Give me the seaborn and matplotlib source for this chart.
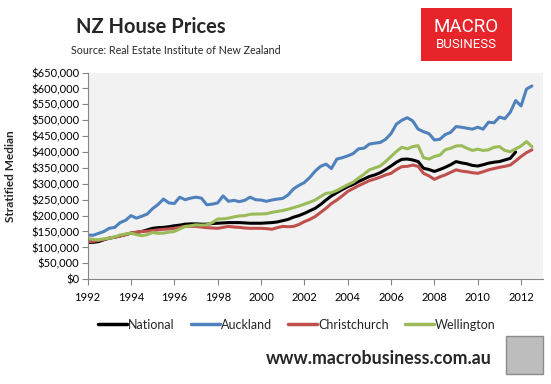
import numpy as np
import pandas as pd
import matplotlib
matplotlib.use("Agg")
import matplotlib.pyplot as plt
import matplotlib.ticker as mticker
from matplotlib.patches import Rectangle
import seaborn as sns

# ── Data (quarterly readings, $ thousands) ───────────────────────
start_year = 1992.0
auckland = [
    139, 138, 144, 150, 160, 163, 178, 185, 200, 192, 198, 205,
    222, 235, 252, 240, 238, 258, 250, 255, 258, 255, 234, 236,
    240, 262, 245, 248, 244, 248, 258, 250, 249, 245, 249, 252,
    254, 265, 284, 295, 304, 320, 340, 355, 362, 348, 378, 382,
    388, 395, 410, 412, 425, 428, 430, 440, 458, 488, 500, 508,
    498, 472, 464, 458, 438, 440, 455, 462, 480, 478, 475, 472,
    478, 472, 494, 492, 510, 505, 525, 562, 545, 598, 608,
]
wellington = [
    128, 125, 124, 127, 129, 133, 139, 142, 145, 140, 137, 140,
    147, 144, 145, 148, 150, 158, 166, 168, 171, 170, 171, 178,
    189, 190, 192, 196, 199, 200, 204, 205, 205, 206, 210, 213,
    216, 220, 225, 230, 236, 242, 249, 260, 270, 272, 279, 288,
    297, 305, 318, 330, 344, 350, 356, 370, 386, 402, 415, 410,
    417, 420, 382, 378, 386, 390, 407, 412, 419, 420, 412, 405,
    409, 405, 407, 415, 417, 405, 401, 410, 419, 433, 417,
]
national = [
    115, 116, 118, 124, 129, 132, 136, 140, 145, 147, 150, 155,
    160, 162, 163, 165, 168, 170, 173, 174, 174, 173, 173, 175,
    176, 177, 178, 178, 178, 177, 176, 176, 176, 177, 178, 180,
    184, 188, 195, 200, 207, 215, 223, 235, 249, 262, 272, 282,
    291, 298, 307, 315, 323, 328, 335, 345, 356, 368, 377, 378,
    375, 370, 349, 345, 339, 345, 352, 360, 370, 366, 363, 358,
    356, 360, 365, 368, 370, 375, 380, 400,
]
christchurch = [
    118, 119, 122, 125, 129, 132, 136, 140, 145, 148, 150, 151,
    153, 155, 157, 158, 160, 163, 166, 166, 166, 164, 162, 161,
    160, 163, 166, 164, 163, 161, 160, 160, 160, 159, 157, 162,
    166, 165, 166, 172, 181, 188, 197, 210, 223, 238, 249, 262,
    276, 285, 294, 302, 310, 315, 321, 328, 333, 345, 354, 355,
    359, 355, 333, 325, 314, 322, 328, 336, 344, 340, 338, 335,
    333, 338, 344, 348, 352, 355, 359, 372, 386, 398, 407,
]

series = {
    "National": national,
    "Auckland": auckland,
    "Christchurch": christchurch,
    "Wellington": wellington,
}
palette = {
    "National": "#000000",
    "Auckland": "#4f81bd",
    "Christchurch": "#c0504d",
    "Wellington": "#9bbb59",
}

rows = []
for name, vals in series.items():
    for i, v in enumerate(vals):
        rows.append({"year": start_year + i / 4, "price": v * 1000, "region": name})
df = pd.DataFrame(rows)

# ── Style ────────────────────────────────────────────────────────
sns.set_style("white")
plt.rcParams["font.family"] = ["Lato", "DejaVu Sans"]
AXIS = "#868686"

fig = plt.figure(figsize=(5.51, 3.84), dpi=100)
ax = fig.add_axes([0.159, 0.273, 0.826, 0.538])
ax.set_facecolor("#f2f2f2")

sns.lineplot(data=df, x="year", y="price", hue="region",
             hue_order=list(series.keys()), palette=palette,
             linewidth=2.2, ax=ax, legend=False)

ax.set_xlim(1992, 2013)
ax.set_ylim(0, 650000)
ax.set_xticks(range(1992, 2013, 2))
ax.set_yticks(range(0, 650001, 50000))
ax.yaxis.set_major_formatter(mticker.FuncFormatter(lambda v, p: f"${v:,.0f}"))
ax.tick_params(axis="both", direction="out", length=4, width=0.8,
               color=AXIS, labelsize=8, labelcolor="#000000", pad=2, left=True, bottom=True)
ax.tick_params(axis="x", pad=5)
for side in ["top", "right"]:
    ax.spines[side].set_visible(False)
for side in ["left", "bottom"]:
    ax.spines[side].set_color(AXIS)
    ax.spines[side].set_linewidth(0.8)
ax.set_xlabel("")
ax.set_ylabel("Stratified Median", fontsize=8.5, fontweight="bold")
ax.yaxis.set_label_coords(-0.158, 0.5)

# Legend
handles = [plt.Line2D([], [], color=palette[n], linewidth=2.5) for n in series]
fig.legend(handles, list(series.keys()), loc="center", ncol=4,
           bbox_to_anchor=(0.539, 0.154), frameon=False, fontsize=9,
           handlelength=2.3, handletextpad=0.1, columnspacing=1.3)

# Titles
fig.text(0.273, 0.93, "NZ House Prices", ha="center", va="center",
         fontsize=14.5, fontweight="bold")
fig.text(0.128, 0.868, "Source: Real Estate Institute of New Zealand",
         ha="left", va="center", fontsize=7.7)

# MacroBusiness logo box
fig.patches.append(Rectangle((421 / 551, 1 - 61 / 384), 91 / 551, 53 / 384,
                             transform=fig.transFigure, facecolor="#e8242b",
                             edgecolor="none"))
fig.text(466.5 / 551, 1 - 27 / 384, "MACRO", ha="center", va="center",
         color="white", fontsize=13.5, family=["Roboto", "DejaVu Sans"])
fig.text(466.5 / 551, 1 - 44 / 384, "BUSINESS", ha="center", va="center",
         color="white", fontsize=9.5, family=["Roboto", "DejaVu Sans"])

# Footer
fig.text(492 / 551, 1 - 359 / 384, "www.macrobusiness.com.au", ha="right", va="center",
         fontsize=12.8, fontweight="bold")
fig.patches.append(Rectangle((506 / 551, 1 - 374 / 384), 37 / 551, 38 / 384,
                             transform=fig.transFigure, facecolor="#bdbdbd",
                             edgecolor="#8c8c8c", linewidth=1))

fig.savefig("out.png", dpi=100)
plt.close(fig)
